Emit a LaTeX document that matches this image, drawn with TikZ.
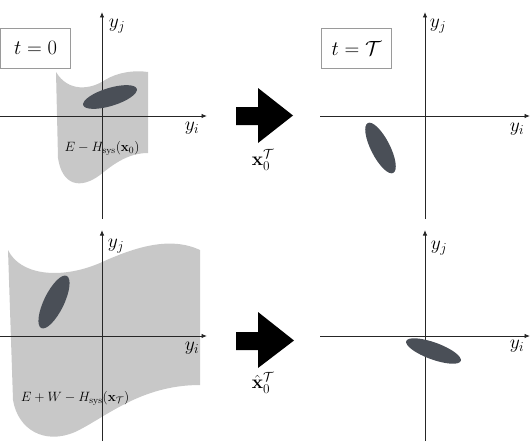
\RequirePackage{fix-cm}
\documentclass[tikz,border=0pt]{standalone}
\usetikzlibrary{arrows.meta}
\definecolor{regiongray}{HTML}{C8C8C8}
\definecolor{blobcol}{HTML}{4A4F57}
\definecolor{boxedge}{HTML}{9A9A9A}
\begin{document}
\begin{tikzpicture}[x=1pt,y=-1pt,
  axis/.style={black!85, line width=0.9pt, -{Latex[length=5.5pt,width=4.5pt]}},
  region/.style={fill=regiongray, draw=none},
  blob/.style={fill=blobcol, draw=none},
  timebox/.style={draw=boxedge, line width=0.8pt, minimum width=70pt, minimum height=40pt, inner sep=0pt, font=\fontsize{20.5}{24}\selectfont},
  axlabel/.style={font=\fontsize{19.5}{22}\selectfont, inner sep=0pt},
  reglabel/.style={font=\fontsize{13.5}{16}\selectfont, inner sep=0pt},
  blockarrow/.style={fill=black, draw=none},
  maplabel/.style={font=\fontsize{19}{22}\selectfont, inner sep=0pt}]
\useasboundingbox (0,0) rectangle (532,444);

% ---------- gray regions ----------
\fill[region] (56,72) .. controls (68,92) and (90,90) .. (105,80)
  .. controls (118,72) and (135,70) .. (148,72)
  -- (148,153)
  .. controls (132,153) and (118,160) .. (100,175)
  .. controls (80,190) and (62,185) .. (58,158) -- cycle;
\fill[region] (8,250) .. controls (20,275) and (60,280) .. (100,263)
  .. controls (135,247) and (170,236) .. (200,250)
  -- (200,385)
  .. controls (140,385) and (105,418) .. (75,432)
  .. controls (45,445) and (18,430) .. (13,400) -- cycle;

% ---------- region labels ----------
\node[reglabel] (lab0) at (102,148) {$E-H_{\mathrm{sys}}(\mathbf{x}_0)$};
\node[reglabel] (labT) at (75,398) {$E+W-H_{\mathrm{sys}}(\mathbf{x}_{\mathcal{T}})$};

% ---------- axes ----------
\coordinate (tlL) at (0,116);   \coordinate (tlR) at (207,116);
\coordinate (tlB) at (102,219); \coordinate (tlT) at (102,12);
\coordinate (trL) at (320,116); \coordinate (trR) at (530,116);
\coordinate (trB) at (425,219); \coordinate (trT) at (425,12);
\coordinate (blL) at (0,336);   \coordinate (blR) at (207,336);
\coordinate (blB) at (102,441); \coordinate (blT) at (102,230);
\coordinate (brL) at (320,336); \coordinate (brR) at (530,336);
\coordinate (brB) at (425,441); \coordinate (brT) at (425,230);
\foreach \p in {tl,tr,bl,br}{
  \draw[axis] (\p L) -- (\p R);
  \draw[axis] (\p B) -- (\p T);
}

% ---------- axis labels ----------
\node[axlabel] (tlyj) at (117,26)  {$y_j$};
\node[axlabel] (tlyi) at (192,128) {$y_i$};
\node[axlabel] (tryj) at (438,26)  {$y_j$};
\node[axlabel] (tryi) at (517,129) {$y_i$};
\node[axlabel] (blyj) at (116,246) {$y_j$};
\node[axlabel] (blyi) at (192,348) {$y_i$};
\node[axlabel] (bryj) at (439,248) {$y_j$};
\node[axlabel] (bryi) at (517,346) {$y_i$};

% ---------- ellipses ----------
\fill[blob, rotate around={17:(110,97)}] (110,97) ellipse [x radius=28, y radius=9];
\fill[blob, rotate around={-63:(380.5,148)}] (380.5,148) ellipse [x radius=28, y radius=9.5];
\fill[blob, rotate around={64:(54,302)}] (54,302) ellipse [x radius=29, y radius=10];
\fill[blob, rotate around={-20:(433.5,351)}] (433.5,351) ellipse [x radius=29, y radius=8.5];

% ---------- time boxes ----------
\node[timebox] (t0) at (35.6,48) {$t=0$};
\node[timebox] (tT) at (356.5,48) {$t=\mathcal{T}$};

% ---------- block arrows ----------
\fill[blockarrow] (236,107) -- (258,107) -- (258,88) -- (293,115.5)
  -- (258,143) -- (258,125) -- (236,125) -- cycle;
\fill[blockarrow] (236,332) -- (258,332) -- (258,312) -- (294,340.5)
  -- (258,368) -- (258,350) -- (236,350) -- cycle;
\node[maplabel] (m1) at (263,160) {$\mathbf{x}_0^{\mathcal{T}}$};
\node[maplabel] (m2) at (263,383) {$\hat{\mathbf{x}}_0^{\mathcal{T}}$};
\end{tikzpicture}
\end{document}
